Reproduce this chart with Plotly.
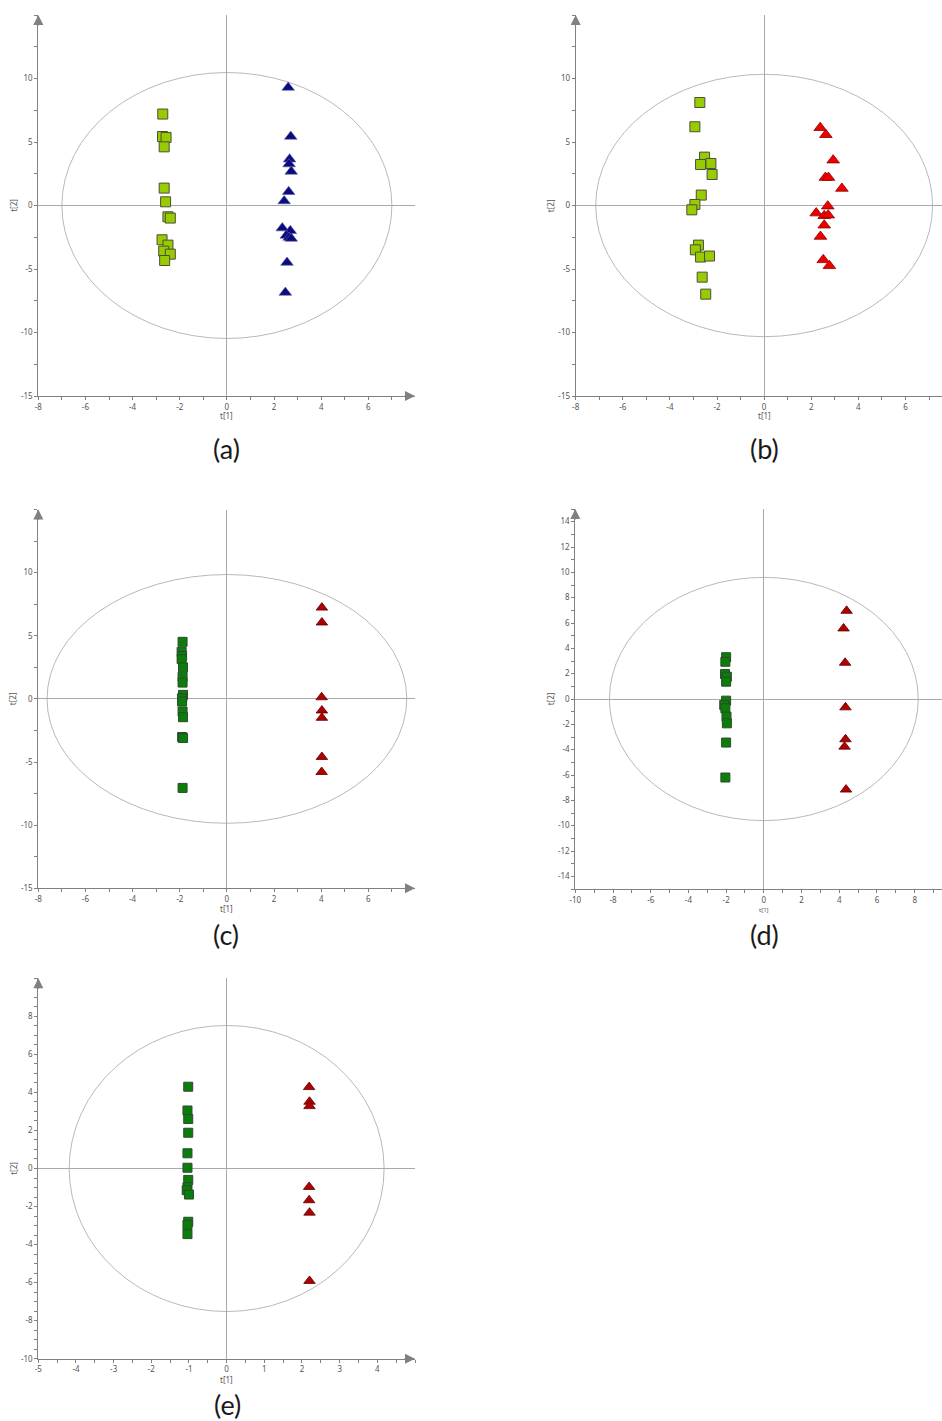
import plotly.graph_objects as go

W, H = 942, 1421

# ---------------- score values, t[1] / t[2] ----------------
# (a)
a_sq_t1 = [-2.72, -2.73, -2.58, -2.66, -2.66, -2.60, -2.50, -2.40, -2.75, -2.50, -2.68, -2.40, -2.64]
a_sq_t2 = [7.20, 5.43, 5.36, 4.62, 1.37, 0.29, -0.89, -0.99, -2.70, -3.12, -3.59, -3.83, -4.33]
a_tri_t1 = [2.60, 2.71, 2.66, 2.64, 2.73, 2.62, 2.43, 2.35, 2.69, 2.52, 2.64, 2.73, 2.55, 2.48]
a_tri_t2 = [9.29, 5.43, 3.65, 3.26, 2.68, 1.08, 0.35, -1.78, -1.99, -2.36, -2.52, -2.60, -4.49, -6.85]

# (b)
b_sq_t1 = [-2.73, -2.94, -2.53, -2.70, -2.26, -2.21, -2.67, -2.94, -3.07, -2.79, -2.92, -2.70, -2.32, -2.63, -2.48]
b_sq_t2 = [8.11, 6.20, 3.81, 3.23, 3.31, 2.44, 0.82, 0.08, -0.34, -3.12, -3.49, -4.06, -3.98, -5.64, -6.98]
b_tri_t1 = [2.38, 2.62, 2.93, 2.60, 2.73, 3.30, 2.70, 2.21, 2.55, 2.72, 2.55, 2.39, 2.51, 2.77]
b_tri_t2 = [6.12, 5.57, 3.57, 2.20, 2.20, 1.34, -0.05, -0.60, -0.81, -0.76, -1.55, -2.44, -4.28, -4.75]

# (c)
c_sq_t1 = [-1.88, -1.92, -1.90, -1.92, -1.86, -1.88, -1.88, -1.86, -1.90, -1.90, -1.88, -1.86, -1.90, -1.86, -1.88]
c_sq_t2 = [4.52, 3.73, 3.40, 3.15, 2.50, 1.76, 1.29, 0.32, 0.05, -0.21, -1.00, -1.45, -3.02, -3.10, -7.05]
c_tri_t1 = [4.03, 4.03, 4.02, 4.03, 4.03, 4.03, 4.02]
c_tri_t2 = [7.23, 6.05, 0.13, -0.92, -1.50, -4.60, -5.79]

# (d)
d_sq_t1 = [-2.00, -2.04, -2.06, -1.96, -2.00, -2.00, -2.10, -2.04, -1.98, -1.96, -2.00, -2.04]
d_sq_t2 = [3.30, 2.94, 1.97, 1.76, 1.37, -0.13, -0.47, -0.73, -1.39, -1.92, -3.44, -6.20]
d_tri_t1 = [4.39, 4.23, 4.31, 4.33, 4.33, 4.28, 4.36]
d_tri_t2 = [6.96, 5.57, 2.86, -0.66, -3.18, -3.76, -7.15]

# (e)
e_sq_t1 = [-1.02, -1.04, -1.02, -1.02, -1.04, -1.04, -1.02, -1.04, -1.06, -1.00, -1.02, -1.04, -1.04]
e_sq_t2 = [4.30, 3.05, 2.60, 1.88, 0.80, 0.04, -0.60, -0.98, -1.14, -1.37, -2.80, -2.96, -3.45]
e_tri_t1 = [2.19, 2.20, 2.20, 2.19, 2.19, 2.20, 2.20]
e_tri_t2 = [4.28, 3.51, 3.28, -0.97, -1.67, -2.32, -5.91]

# Hotelling T2 (95%) ellipse semi-axes (t[1], t[2])
ellipse_axes = {
    "a": (7.00, 10.47),
    "b": (7.15, 10.33),
    "c": (7.63, 9.85),
    "d": (8.19, 9.60),
    "e": (4.18, 7.52),
}

panel_labels = ["(a)", "(b)", "(c)", "(d)", "(e)"]

# ---------------- styles ----------------
LIME = dict(color="#99cc00", line=dict(color="#4a4f3a", width=1))
NAVY = dict(color="#0b0b80", line=dict(color="#5c5c9c", width=0.6))
RED = dict(color="#ee0000", line=dict(color="#8a0000", width=0.8))
GREEN = dict(color="#0a7d0a", line=dict(color="#2f4a2f", width=1))
DARKRED = dict(color="#b00000", line=dict(color="#5a0000", width=0.8))

AXIS_GREY = "#808080"
ZERO_GREY = "#a9a9a9"
TICK_FONT = dict(family="Noto Sans, DejaVu Sans, sans-serif", size=8, color="#555555")


def px_x(p):
    return p / W


def px_y(p):
    return 1 - p / H


panels = [
    dict(key="a", sq=(a_sq_t1, a_sq_t2), tri=(a_tri_t1, a_tri_t2), sq_style=LIME, tri_style=NAVY,
         xdom=(38.3, 415.0), ydom=(15.0, 396.0), xr=(-8, 7.98), yr=(-15, 15),
         xticks=list(range(-8, 7, 2)), xminor=1, yticks=[-15, -10, -5, 0, 5, 10], yminor=2.5,
         xarrow=True, sq_size=10, tri_size=11, cap=(226, 448), xtitle_y=415, xtitle_size=8),
    dict(key="b", sq=(b_sq_t1, b_sq_t2), tri=(b_tri_t1, b_tri_t2), sq_style=LIME, tri_style=RED,
         xdom=(575.7, 942.0), ydom=(15.0, 396.0), xr=(-8, 7.55), yr=(-15, 15),
         xticks=list(range(-8, 7, 2)), xminor=1, yticks=[-15, -10, -5, 0, 5, 10], yminor=2.5,
         xarrow=False, sq_size=10, tri_size=11, cap=(764, 448), xtitle_y=415, xtitle_size=8),
    dict(key="c", sq=(c_sq_t1, c_sq_t2), tri=(c_tri_t1, c_tri_t2), sq_style=GREEN, tri_style=DARKRED,
         xdom=(38.3, 415.0), ydom=(509.5, 888.3), xr=(-8, 7.98), yr=(-15, 15),
         xticks=list(range(-8, 7, 2)), xminor=1, yticks=[-15, -10, -5, 0, 5, 10], yminor=2.5,
         xarrow=True, sq_size=9, tri_size=10, cap=(226, 934), xtitle_y=908, xtitle_size=8),
    dict(key="d", sq=(d_sq_t1, d_sq_t2), tri=(d_tri_t1, d_tri_t2), sq_style=GREEN, tri_style=DARKRED,
         xdom=(575.3, 942.0), ydom=(509.0, 889.0), xr=(-10, 9.45), yr=(-15, 15),
         xticks=list(range(-10, 9, 2)), xminor=1, yticks=list(range(-14, 15, 2)), yminor=1,
         xarrow=False, sq_size=9, tri_size=10, cap=(764, 934), xtitle_y=910, xtitle_size=6),
    dict(key="e", sq=(e_sq_t1, e_sq_t2), tri=(e_tri_t1, e_tri_t2), sq_style=GREEN, tri_style=DARKRED,
         xdom=(38.3, 415.0), ydom=(978.3, 1358.7), xr=(-5, 5), yr=(-10, 10),
         xticks=list(range(-5, 5)), xminor=0.5, yticks=list(range(-10, 9, 2)), yminor=0.5,
         xarrow=True, sq_size=9, tri_size=10, cap=(227, 1404), xtitle_y=1379, xtitle_size=8),
]

fig = go.Figure()
shapes, annotations = [], []

for i, p in enumerate(panels):
    n = "" if i == 0 else str(i + 1)
    xa, ya = "x" + n, "y" + n

    fig.add_trace(go.Scatter(
        x=p["sq"][0], y=p["sq"][1], mode="markers", xaxis=xa, yaxis=ya,
        marker=dict(symbol="square", size=p["sq_size"], **p["sq_style"]),
        showlegend=False, hoverinfo="x+y"))
    fig.add_trace(go.Scatter(
        x=p["tri"][0], y=p["tri"][1], mode="markers", xaxis=xa, yaxis=ya,
        marker=dict(symbol="triangle-up", size=p["tri_size"], **p["tri_style"]),
        showlegend=False, hoverinfo="x+y"))

    axis_common = dict(
        showgrid=False, zeroline=True, zerolinecolor=ZERO_GREY, zerolinewidth=1,
        showline=True, linecolor=AXIS_GREY, linewidth=1, automargin=False,
        ticks="outside", ticklen=3, tickwidth=1, tickcolor=AXIS_GREY,
        tickfont=TICK_FONT, fixedrange=True,
    )
    fig.layout["xaxis" + n] = dict(
        axis_common, domain=[px_x(p["xdom"][0]), px_x(p["xdom"][1])], range=list(p["xr"]),
        anchor=ya, tickvals=p["xticks"], ticktext=[str(v) for v in p["xticks"]],
        minor=dict(ticks="outside", ticklen=3, tickcolor=AXIS_GREY, dtick=p["xminor"], tick0=0),
    )
    fig.layout["yaxis" + n] = dict(
        axis_common, domain=[px_y(p["ydom"][1]), px_y(p["ydom"][0])], range=list(p["yr"]),
        anchor=xa, tickvals=p["yticks"], ticktext=[str(v) for v in p["yticks"]],
        minor=dict(ticks="outside", ticklen=3, tickcolor=AXIS_GREY, dtick=p["yminor"], tick0=0),
    )

    rx, ry = ellipse_axes[p["key"]]
    shapes.append(dict(type="circle", xref=xa, yref=ya, x0=-rx, x1=rx, y0=-ry, y1=ry,
                       line=dict(color="#b8b8b8", width=1), layer="below"))

    # axis arrow heads
    annotations.append(dict(xref=xa, yref=ya, x=p["xr"][0], y=p["yr"][1], ax=0, ay=12,
                            text="", showarrow=True, arrowhead=2, arrowsize=2,
                            arrowwidth=1, arrowcolor=AXIS_GREY, standoff=0))
    if p["xarrow"]:
        annotations.append(dict(xref=xa, yref=ya, x=p["xr"][1], y=p["yr"][0], ax=-12, ay=0,
                                text="", showarrow=True, arrowhead=2, arrowsize=2,
                                arrowwidth=1, arrowcolor=AXIS_GREY, standoff=0))

    # axis titles
    y0_px = p["ydom"][0] + (p["yr"][1] / (p["yr"][1] - p["yr"][0])) * (p["ydom"][1] - p["ydom"][0])
    x0_px = p["xdom"][0] + (-p["xr"][0] / (p["xr"][1] - p["xr"][0])) * (p["xdom"][1] - p["xdom"][0])
    annotations.append(dict(xref="paper", yref="paper", x=px_x(p["xdom"][0] - 25), y=px_y(y0_px),
                            xanchor="center", yanchor="middle",
                            text="t[2]", textangle=-90, showarrow=False,
                            font=dict(TICK_FONT, size=8)))
    annotations.append(dict(xref="paper", yref="paper", x=px_x(x0_px), y=px_y(p["xtitle_y"]),
                            xanchor="center", yanchor="middle",
                            text="t[1]", showarrow=False,
                            font=dict(TICK_FONT, size=p["xtitle_size"])))

    # panel caption
    annotations.append(dict(xref="paper", yref="paper", x=px_x(p["cap"][0]), y=px_y(p["cap"][1]),
                            xanchor="center", yanchor="middle",
                            text=panel_labels[i], showarrow=False,
                            font=dict(family="Lato, Open Sans, sans-serif", size=27, color="#1a1a1a")))

fig.update_layout(
    template="none",
    width=W, height=H, margin=dict(l=0, r=0, t=0, b=0, autoexpand=False),
    paper_bgcolor="white", plot_bgcolor="white",
    shapes=shapes, annotations=annotations,
)

fig.write_html("out.html")
